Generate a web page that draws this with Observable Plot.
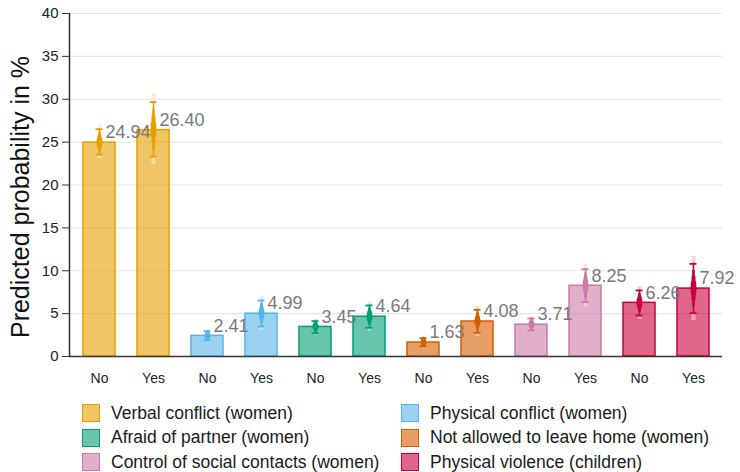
<!DOCTYPE html>
<html>
<head>
<meta charset="utf-8">
<script src="https://cdn.jsdelivr.net/npm/d3@7"></script>
<script src="https://cdn.jsdelivr.net/npm/@observablehq/plot@0.6"></script>
<style>
  body { margin: 0; background: #fff; font-family: "Liberation Sans", Arial, sans-serif; }
  #chart { position: relative; width: 740px; height: 472px; overflow: hidden; }
  #chart svg { display: block; }
  .legend {
    position: absolute; left: 82px; top: 401px;
    display: grid; grid-template-columns: 319px auto; grid-auto-rows: 24.5px;
    font-size: 17.5px; color: #1a1a1a;
  }
  .item { display: flex; align-items: center; white-space: nowrap; }
  .sw { width: 18px; height: 18px; box-sizing: border-box; border: 1.5px solid; margin-right: 11px; }
</style>
</head>
<body>
<div id="chart"></div>
<script>
// Outcome categories, each shown for "No" and "Yes"
const categories = [
  "Verbal conflict (women)",
  "Physical conflict (women)",
  "Afraid of partner (women)",
  "Not allowed to leave home (women)",
  "Control of social contacts (women)",
  "Physical violence (children)"
];
const responses = ["No", "Yes"];

// Predicted probabilities (%) in category order, No then Yes
const estimates = [24.94, 26.40, 2.41, 4.99, 3.45, 4.64, 1.63, 4.08, 3.71, 8.25, 6.26, 7.92];
// Confidence interval bounds (%)
const lower = [23.55, 23.30, 1.90, 3.50, 2.72, 3.35, 1.20, 2.76, 3.03, 6.33, 4.78, 5.05];
const upper = [26.50, 29.66, 2.95, 6.53, 4.12, 5.95, 2.14, 5.44, 4.43, 10.18, 7.70, 10.80];

const palette = ["#E69F00", "#56B4E9", "#009E73", "#D55E00", "#CC79A7", "#C9003A"];
const yTicks = [0, 5, 10, 15, 20, 25, 30, 35, 40];
const yLabel = "Predicted probability in %";

const rows = estimates.map((v, i) => ({
  key: categories[Math.floor(i / 2)] + "|" + responses[i % 2],
  category: categories[Math.floor(i / 2)],
  response: responses[i % 2],
  value: v,
  lo: lower[i],
  hi: upper[i]
}));

// Tapered interval: stacked rules, wider towards the estimate
const taper = [[1, 1.6], [0.7, 2.6], [0.45, 4], [0.2, 5.5]].map(([f, w]) =>
  Plot.ruleX(rows, {
    x: "key",
    y1: d => d.value - f * (d.value - d.lo),
    y2: d => d.value + f * (d.hi - d.value),
    stroke: "category",
    strokeWidth: w,
    strokeLinecap: "round"
  })
);

// Pale tails beyond the interval caps
const tailOpts = (white) => ({
  x: "key",
  stroke: white ? "#fff" : "category",
  strokeOpacity: white ? 0.65 : 0.18,
  strokeWidth: 4
});
const tails = [true, false].flatMap(white => [
  Plot.ruleX(rows, {...tailOpts(white), y1: "hi", y2: d => d.hi + 0.3 * (d.hi - d.value)}),
  Plot.ruleX(rows, {...tailOpts(white), y1: d => d.lo - 0.3 * (d.value - d.lo), y2: "lo"})
]);

const plot = Plot.plot({
  width: 740,
  height: 392,
  marginTop: 13,
  marginBottom: 36,
  marginLeft: 69,
  marginRight: 18,
  style: { fontFamily: "Liberation Sans, Arial, sans-serif", color: "#222", background: "#fff" },
  x: { domain: rows.map(d => d.key), paddingInner: 0.41, paddingOuter: 0.2 },
  y: { domain: [0, 40] },
  color: { domain: categories, range: palette },
  marks: [
    Plot.gridY(yTicks, { stroke: "#e6e6e6", strokeOpacity: 1, strokeWidth: 1.2 }),
    Plot.barY(rows, {
      x: "key", y: "value",
      fill: "category", fillOpacity: 0.6,
      stroke: "category", strokeWidth: 1.5
    }),
    ...tails,
    ...taper,
    Plot.tickY(rows, { x: "key", y: "lo", stroke: "category", strokeWidth: 1.8, inset: 12.5 }),
    Plot.tickY(rows, { x: "key", y: "hi", stroke: "category", strokeWidth: 1.8, inset: 12.5 }),
    Plot.dot(rows, { x: "key", y: "value", fill: "category", r: 3 }),
    Plot.text(rows, {
      x: "key", y: "value",
      text: d => d.value.toFixed(2),
      textAnchor: "start", dx: 6, dy: -10,
      fontSize: 18, fill: "#7a7a7a"
    }),
    Plot.frame({ anchor: "left", stroke: "#333", strokeWidth: 1.5 }),
    Plot.ruleY([0], { stroke: "#333", strokeWidth: 1.5 }),
    Plot.axisY(yTicks, { tickSize: 7, tickPadding: 4, fontSize: 15, label: null, stroke: "#333" }),
    Plot.axisX({ tickSize: 0, tickPadding: 17, fontSize: 14, label: null, tickFormat: k => k.split("|")[1] }),
    Plot.text([yLabel], {
      frameAnchor: "left", dx: -49, dy: 12,
      textAnchor: "middle", lineAnchor: "middle",
      rotate: -90, fontSize: 25, fill: "#111"
    })
  ]
});

const chart = document.getElementById("chart");
chart.appendChild(plot);

// Legend below the plot, two columns
const legend = document.createElement("div");
legend.className = "legend";
categories.forEach((c, i) => {
  const item = document.createElement("div");
  item.className = "item";
  const sw = document.createElement("span");
  sw.className = "sw";
  const col = d3.color(palette[i]);
  sw.style.borderColor = palette[i];
  sw.style.background = `rgba(${col.r},${col.g},${col.b},0.6)`;
  const label = document.createElement("span");
  label.textContent = c;
  item.append(sw, label);
  legend.appendChild(item);
});
chart.appendChild(legend);
</script>
</body>
</html>
